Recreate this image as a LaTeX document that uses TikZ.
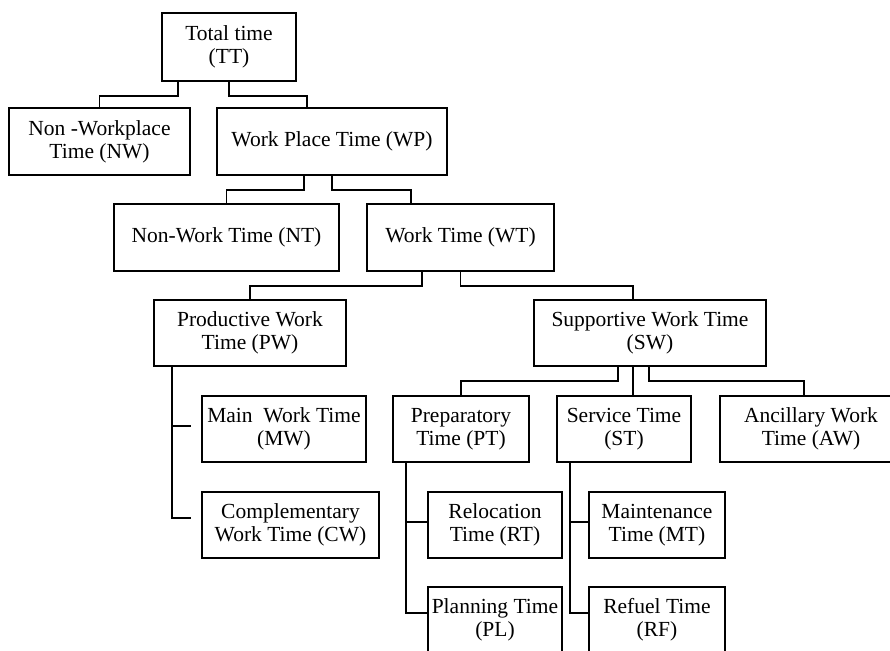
\documentclass[tikz,border=0pt]{standalone}
\usepackage{fontspec}
\setmainfont{Liberation Serif}
\usetikzlibrary{calc}

\tikzset{
	box/.style={draw, black, line width=1pt, align=center, inner sep=1pt,
		minimum height=33pt, font=\fontsize{10.75}{11.5}\selectfont},
	link/.style={black, line width=0.9pt},
}

\begin{document}
\begin{tikzpicture}[x=0.5pt, y=-0.5pt]
		\useasboundingbox (0, 0) rectangle (890, 650);
		\fill[white]	(0, 0) rectangle (890, 650);

		\node[box, minimum width=67pt, minimum height=34pt]	(TT) at (229, 47) {Total time\\(TT)};
		\node[box, minimum width=90.5pt, minimum height=33.5pt]	(NW) at (99.5, 141.5) {Non -Workplace\\Time (NW)};
		\node[box, minimum width=115pt, minimum height=33.5pt]	(WP) at (332, 141.5) {Work Place Time (WP)};
		\node[box, minimum width=112.5pt, minimum height=33.5pt]	(NT) at (226.5, 237.5) {Non-Work Time (NT)};
		\node[box, minimum width=93.5pt, minimum height=33.5pt]	(WT) at (460.5, 237.5) {Work Time (WT)};

		\node[box, minimum width=96pt]	(PW) at (250, 333) {Productive Work\\Time (PW)};
		\node[box, minimum width=116pt]	(SW) at (650, 333) {Supportive Work Time\\(SW)};

		\node[box, minimum width=82pt]	(MW) at (284, 429) {Main~~Work Time\\(MW)};
		\node[box, minimum width=88.5pt]	(CW) at (290.5, 525) {Complementary\\Work Time (CW)};

		\node[box, minimum width=68pt]	(PT) at (461, 429) {Preparatory\\Time (PT)};
		\node[box, minimum width=67pt]	(ST) at (624, 429) {Service Time\\(ST)};
		\node[box, anchor=west, minimum width=100pt]	(AW) at (719, 429) {\hspace*{-9pt}Ancillary Work\\\hspace*{-9pt}Time (AW)};

		\node[box, minimum width=67pt]	(RT) at (495, 525) {Relocation\\Time (RT)};
		\node[box, minimum width=67pt]	(PL) at (495, 620) {Planning Time\\(PL)};
		\node[box, minimum width=68pt]	(MT) at (657, 525) {Maintenance\\Time (MT)};
		\node[box, minimum width=68pt]	(RF) at (657, 620) {Refuel Time\\(RF)};

		\draw[link]	($(TT.south)+(-51, 0)$) -- ++(0, 14) -| (NW.north);
		\draw[link]	(TT.south) -- ++(0, 14) -| ($(WP.north)+(-25, 0)$);
		\draw[link]	($(WP.south)+(-28, 0)$) -- ++(0, 14) -| (NT.north);
		\draw[link]	(WP.south) -- ++(0, 14) -| ($(WT.north)+(-49.5, 0)$);
		\draw[link]	($(WT.south)+(-38.5, 0)$) -- ++(0, 14) -| (PW.north);
		\draw[link]	(WT.south) -- ++(0, 14) -| ($(SW.north)+(-17, 0)$);
		\draw[link]	($(SW.south)+(-32, 0)$) -- ++(0, 14) -| (PT.north);
		\draw[link]	($(SW.south)+(-17, 0)$) -- ($(ST.north)+(9, 0)$);
		\draw[link]	($(SW.south)+(-1, 0)$) -- ++(0, 14) -| ($(AW.north west)+(85, 0)$);

		\draw[link]	($(PW.south west)+(19, 0)$) |- ($(MW.west)+(-10, -3)$);
		\draw[link]	($(PW.south west)+(19, 0)$) |- ($(CW.west)+(-10, -7)$);
		\draw[link]	($(PT.south west)+(14, 0)$) |- ($(RT.west)+(0, -3)$);
		\draw[link]	($(PT.south west)+(14, 0)$) |- ($(PL.west)+(0, -7)$);
		\draw[link]	($(ST.south west)+(14, 0)$) |- ($(MT.west)+(0, -3)$);
		\draw[link]	($(ST.south west)+(14, 0)$) |- ($(RF.west)+(0, -7)$);
	\end{tikzpicture}
\end{document}
